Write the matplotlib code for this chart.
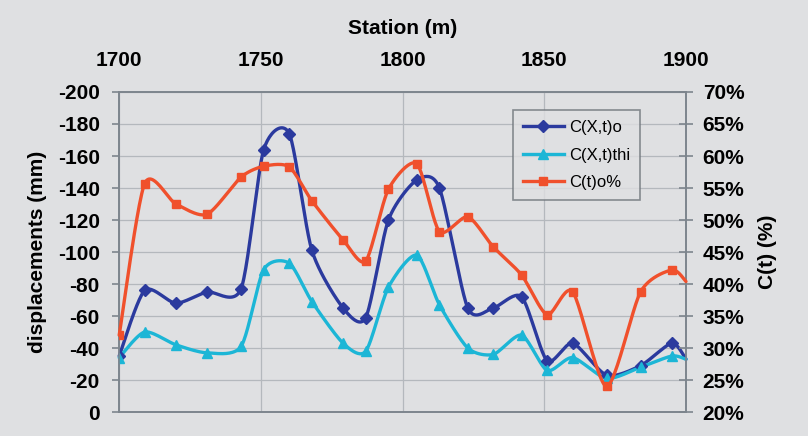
import matplotlib
matplotlib.use("Agg")
import matplotlib.pyplot as plt
import numpy as np

plt.rcParams['font.family'] = ['Liberation Sans', 'DejaVu Sans']
plt.rcParams['axes.unicode_minus'] = False

# station along the tunnel (m)
station = [1700, 1709, 1720, 1731, 1743, 1751, 1760, 1768, 1779, 1787, 1795,
           1805, 1813, 1823, 1832, 1842, 1851, 1860, 1872, 1884, 1895, 1900]
# displacements (mm), left axis
c_xt_o = [-35, -76, -68, -75, -77, -164, -174, -101, -65, -59, -120,
          -145, -140, -65, -65, -72, -32, -43, -23, -29, -43, -33]
c_xt_thi = [-34, -50, -42, -37, -41, -89, -93, -69, -43, -38, -78,
            -98, -67, -40, -36, -48, -26, -34, -21, -28, -35, -33]
# C(t) (%), right axis
c_t_o = [32.0, 55.7, 52.5, 50.9, 56.7, 58.4, 58.3, 53.0, 46.9, 43.6, 54.8,
         58.8, 48.2, 50.5, 45.8, 41.4, 35.2, 38.8, 24.0, 38.8, 42.2, 40.4]

BG = '#dfe0e2'
GRID = '#b4b8bd'
SPINE = '#7d858d'
FS = 15


def smooth(x, y, n=24, c=0.75):
    # cardinal spline, close to the "smoothed line" option of a spreadsheet chart
    p = np.column_stack([x, y]).astype(float)
    ext = np.vstack([p[0], p, p[-1]])
    m = c * (ext[2:] - ext[:-2]) / 2
    t = np.linspace(0, 1, n, endpoint=False)[:, None]
    h00 = 2 * t ** 3 - 3 * t ** 2 + 1
    h10 = t ** 3 - 2 * t ** 2 + t
    h01 = -2 * t ** 3 + 3 * t ** 2
    h11 = t ** 3 - t ** 2
    out = []
    for i in range(len(p) - 1):
        out.append(h00 * p[i] + h10 * m[i] + h01 * p[i + 1] + h11 * m[i + 1])
    out.append(p[-1][None, :])
    out = np.vstack(out)
    return out[:, 0], out[:, 1]


fig = plt.figure(figsize=(8.08, 4.36), dpi=100, facecolor=BG)
ax = fig.add_axes([0.1475, 0.055, 0.7015, 0.734])
ax.set_facecolor(BG)
ax2 = ax.twinx()

series = [
    (ax, c_xt_o, '#2b3a9e', 'D', 6, 'C(X,t)o'),
    (ax, c_xt_thi, '#1cb6d6', '^', 7, 'C(X,t)thi'),
    (ax2, c_t_o, '#f0502c', 's', 6, 'C(t)o%'),
]
handles = []
for a, vals, col, mk, ms, lab in series:
    sx, sy = smooth(station, vals)
    a.plot(sx, sy, color=col, lw=2.4, solid_capstyle='round', clip_on=False, zorder=3)
    a.plot(station[:-1], vals[:-1], ls='none', marker=mk, ms=ms, color=col, zorder=4)
    h, = a.plot([], [], color=col, lw=2.4, marker=mk, ms=ms, label=lab)
    handles.append(h)

ax.set_xlim(1700, 1900)
ax.set_ylim(0, -200)
ax.set_yticks(np.arange(0, -201, -20))
ax.set_xticks([1700, 1750, 1800, 1850, 1900])
ax.xaxis.tick_top()
ax.xaxis.set_label_position('top')
ax.grid(axis='both', color=GRID, lw=0.9)
ax.set_axisbelow(True)

ax2.set_ylim(20, 70)
ax2.set_yticks(np.arange(20, 71, 5))
ax2.set_yticklabels([f"{v}%" for v in range(20, 71, 5)])

for a in (ax, ax2):
    for s in a.spines.values():
        s.set_color(SPINE)
        s.set_linewidth(1.2)

ax.tick_params(axis='x', length=0, pad=16, labelsize=FS, colors='black')
ax.tick_params(axis='y', length=5, width=1.2, color=SPINE, pad=9, labelsize=FS)
ax2.tick_params(axis='y', direction='inout', length=10, width=1.2, color=SPINE,
                pad=7, labelsize=FS)
for lab in ax.get_xticklabels() + ax.get_yticklabels() + ax2.get_yticklabels():
    lab.set_fontweight('bold')

ax.set_xlabel('Station (m)', fontsize=FS, fontweight='bold', labelpad=12)
ax.set_ylabel('displacements (mm)', fontsize=FS, fontweight='bold', labelpad=8)
ax2.set_ylabel('C(t) (%)', fontsize=FS, fontweight='bold', labelpad=10)

leg = ax2.legend(handles=handles, loc='upper left', bbox_to_anchor=(0.694, 0.943),
                 fontsize=12, handlelength=2.5, frameon=True, fancybox=False,
                 borderpad=0.6, labelspacing=0.75, handletextpad=0.3,
                 borderaxespad=0)
leg.get_frame().set_facecolor(BG)
leg.get_frame().set_edgecolor('#6e747a')
leg.get_frame().set_linewidth(1.2)

fig.savefig('out.png', dpi=100, facecolor=BG)
